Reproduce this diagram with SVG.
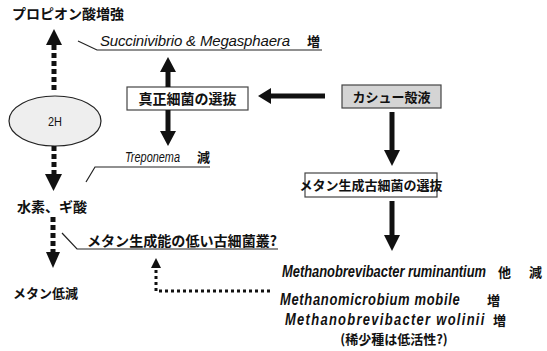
<svg xmlns="http://www.w3.org/2000/svg" width="547" height="351" viewBox="0 0 547 351">
<style>
.jp{font-family:"Noto Sans CJK JP","Noto Sans",sans-serif;font-weight:bold;fill:#111}
.lat{font-family:"Liberation Sans",Arial,sans-serif;font-style:italic;fill:#111}
.latb{font-family:"Liberation Sans",Arial,sans-serif;font-style:italic;font-weight:bold;fill:#111}
.box{fill:#fff;stroke:#444;stroke-width:1.2}
.gbox{fill:#d4d4d4;stroke:#444;stroke-width:1.2}
.thick{stroke:#111;stroke-width:5;fill:none}
.dot{stroke:#111;stroke-width:5;stroke-dasharray:5 3;fill:none}
.sdot{stroke:#111;stroke-width:3;stroke-dasharray:3 3;fill:none}
.lead{stroke:#222;stroke-width:1.2;fill:none}
.head{fill:#111}
</style>
<g id="title"><text class="jp" x="12" y="19" font-size="14">プロピオン酸増強</text></g>
<g id="h2"><ellipse cx="55" cy="121" rx="46" ry="25" fill="#eee" stroke="#222" stroke-width="1.2"/><text x="55" y="126" text-anchor="middle" font-family="Liberation Sans, sans-serif" font-size="12" fill="#111" textLength="14" lengthAdjust="spacingAndGlyphs">2H</text></g>
<g id="suc"><text x="100" y="46" class="lat" font-size="15" textLength="190" lengthAdjust="spacing">Succinivibrio &amp; Megasphaera</text><text class="jp" x="307" y="46" font-size="13">増</text></g>
<g id="shinsei"><rect class="box" x="127" y="87" width="121" height="23"/><text class="jp" x="187.5" y="104" font-size="14" text-anchor="middle">真正細菌の選抜</text></g>
<g id="cashew"><rect class="gbox" x="342" y="85" width="99" height="23"/><text class="jp" x="391.5" y="102" font-size="13" text-anchor="middle">カシュー殻液</text></g>
<g id="trep"><text class="lat" font-size="14" transform="translate(125,162) scale(0.78,1)">Treponema</text><text class="jp" x="197" y="162" font-size="13">減</text></g>
<g id="metsel"><rect class="box" x="305" y="173" width="132" height="24"/><text class="jp" x="371" y="190" font-size="13" text-anchor="middle">メタン生成古細菌の選抜</text></g>
<g id="h2fa"><text class="jp" x="17" y="212" font-size="14">水素、ギ酸</text></g>
<g id="lowarch"><text class="jp" x="87" y="246" font-size="14" textLength="190" lengthAdjust="spacingAndGlyphs">メタン生成能の低い古細菌叢?</text></g>
<g id="metred"><text class="jp" x="13" y="298" font-size="13">メタン低減</text></g>
<g id="mrum"><text class="latb" font-size="16" transform="translate(282,277) scale(0.806,1)">Methanobrevibacter ruminantium</text><text class="jp" x="498" y="277" font-size="13">他</text><text class="jp" x="529" y="277" font-size="13">減</text></g>
<g id="mmob"><text class="latb" font-size="16" letter-spacing="0.84" transform="translate(280,305) scale(0.81,1)">Methanomicrobium mobile</text><text class="jp" x="487" y="305" font-size="13">増</text></g>
<g id="mwol"><text class="latb" font-size="16" letter-spacing="1.6" transform="translate(285,325) scale(0.81,1)">Methanobrevibacter wolinii</text><text class="jp" x="493" y="325" font-size="13">増</text></g>
<g id="rare"><text class="jp" x="394" y="344" font-size="13" text-anchor="middle">(稀少種は低活性?)</text></g>
<g id="connectors">
<path class="lead" d="M78 41 L97 50 L322 50"/>
<path class="lead" d="M86 182 L95 167 L210 167"/>
<path class="lead" d="M62 233 L77 249 L278 249"/>
<path class="dot" d="M54 90 V45"/><path class="head" d="M46 45 L54 29 L62 45 Z"/>
<path class="dot" d="M54 146 V174"/><path class="head" d="M45 174 L62 174 L53.5 191 Z"/>
<path class="dot" d="M53 217 V252"/><path class="head" d="M46 252 L60 252 L53 268 Z"/>
<path class="thick" d="M168 87 V72"/><path class="head" d="M160 72 L168 57 L176 72 Z"/>
<path class="thick" d="M168 110 V131"/><path class="head" d="M160 131 L176 131 L168 146 Z"/>
<path class="thick" d="M325 96 H271"/><path class="head" d="M271 88 L258 96 L271 104 Z"/>
<path class="thick" d="M392 112 V150"/><path class="head" d="M384 150 L400 150 L392 166 Z"/>
<path class="thick" d="M392 201 V235"/><path class="head" d="M384 235 L400 235 L392 251 Z"/>
<path class="sdot" d="M270 291 H156 V270"/><path class="head" d="M151 268 L156 258 L161 268 Z"/>
</g>
</svg>
